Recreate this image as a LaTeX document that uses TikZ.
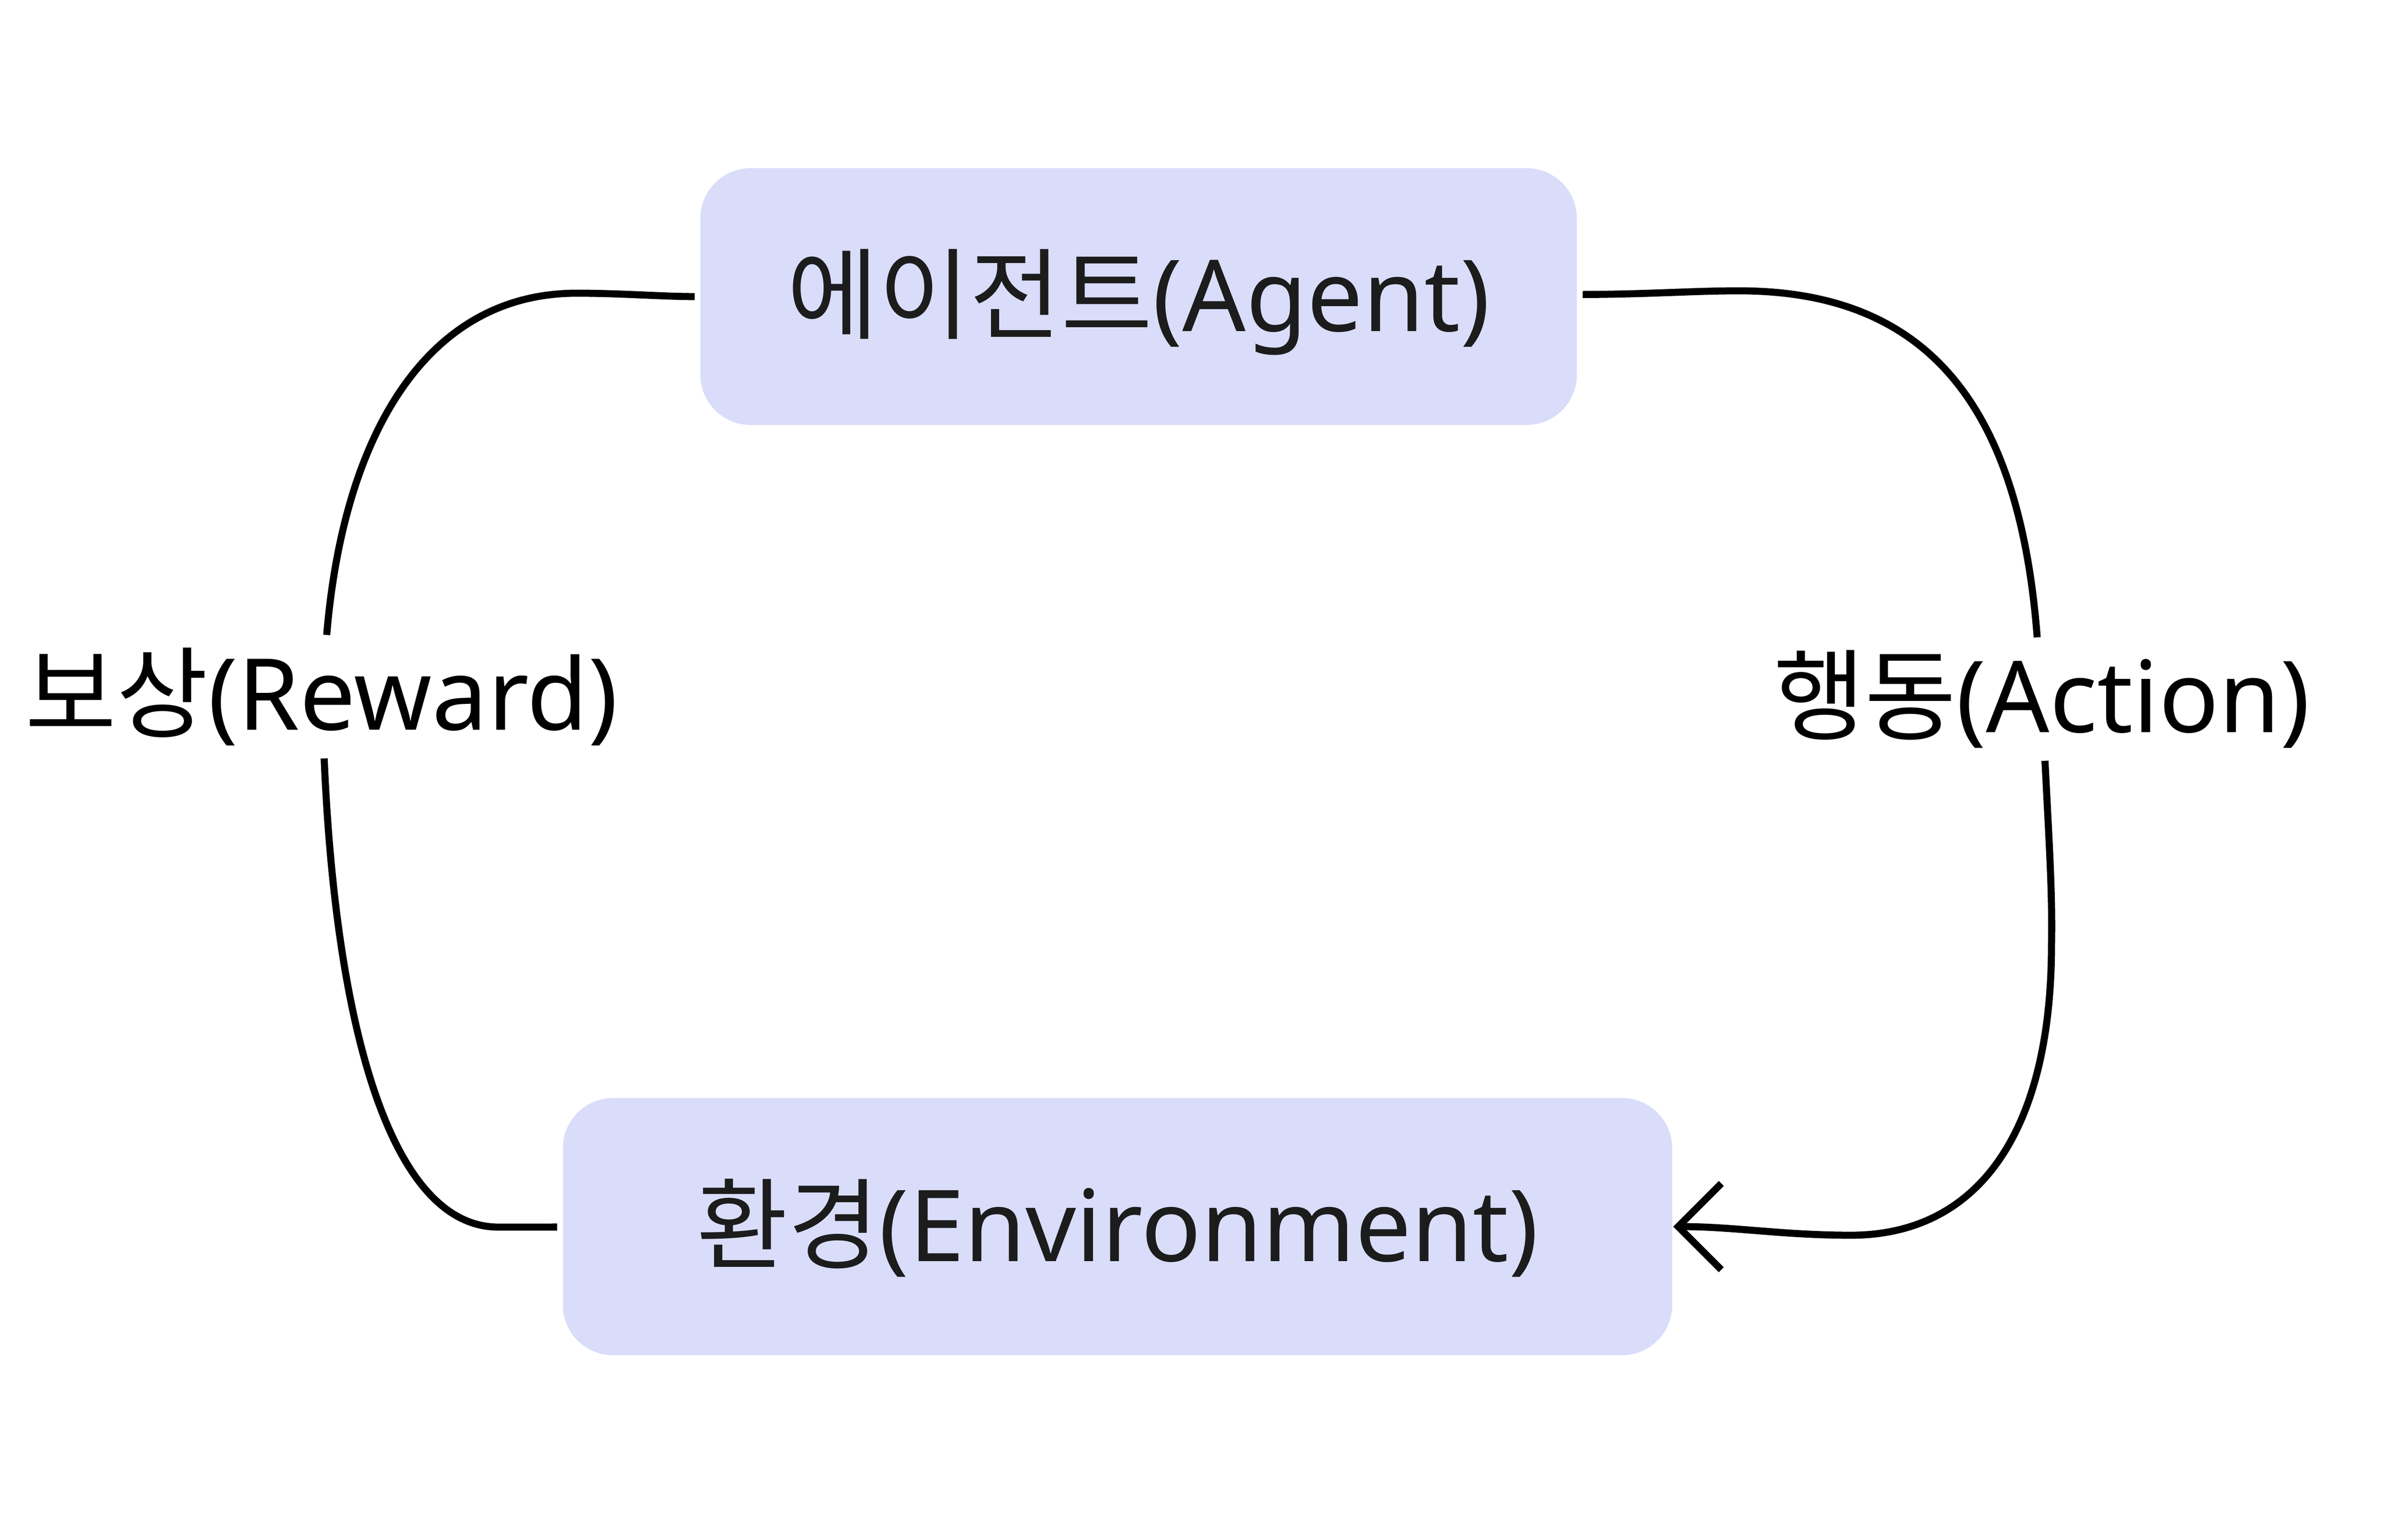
\documentclass[tikz,border=0pt]{standalone}
\usepackage{fontspec}
\setmainfont{Noto Sans}
\newfontfamily\kr{Noto Sans CJK KR}
\usetikzlibrary{arrows.meta}
\definecolor{boxfill}{RGB}{217,221,250}
\definecolor{ink}{RGB}{28,28,28}
\begin{document}
\begin{tikzpicture}[
    font=\fontsize{59pt}{71pt}\selectfont,
    block/.style={fill=boxfill, text=ink, rounded corners=1.05cm, inner sep=0pt, outer sep=0.12cm,
      text height=1.95cm, text depth=0.49cm},
    tag/.style={inner sep=0.26cm},
    flow/.style={draw, line width=4.2pt},
    headed/.style={-{Straight Barb[length=0.9cm,width=1.8cm]}, shorten >=-0.1cm}]
  \useasboundingbox (0,0) rectangle (49.77,32.14);
  \node[block, minimum width=18.29cm, minimum height=5.36cm] (agent) at (23.76,25.95) {{\kr 에이전트}(Agent)};
  \node[block, minimum width=23.15cm, minimum height=5.37cm] (env) at (23.32,6.54) {{\kr 환경}(Environment)};
  \node[tag] (reward) at (6.71,17.60) {{\kr 보상}(Reward)};
  \node[tag] (action) at (42.61,17.55) {{\kr 행동}(Action)};
  % reward: env -> agent, no head
  \draw[flow] (env) -- (10.40,6.53) .. controls (8.20,6.53) and (7.01,10.55) .. (reward)
    .. controls (7.17,23.11) and (8.93,26.02) .. (12.03,26.02)
    .. controls (13.00,26.02) and (13.80,25.95) .. (agent);
  % action: agent -> env
  \draw[flow, headed] (agent) .. controls (34.50,26.00) and (35.30,26.07) .. (36.29,26.07)
    .. controls (40.32,26.07) and (42.15,23.55) .. (action)
    .. controls (42.76,14.54) and (42.83,13.54) .. (42.81,12.43)
    .. controls (42.81,8.54) and (41.30,6.36) .. (38.62,6.36)
    .. controls (37.20,6.36) and (36.20,6.54) .. (env);
\end{tikzpicture}
\end{document}
